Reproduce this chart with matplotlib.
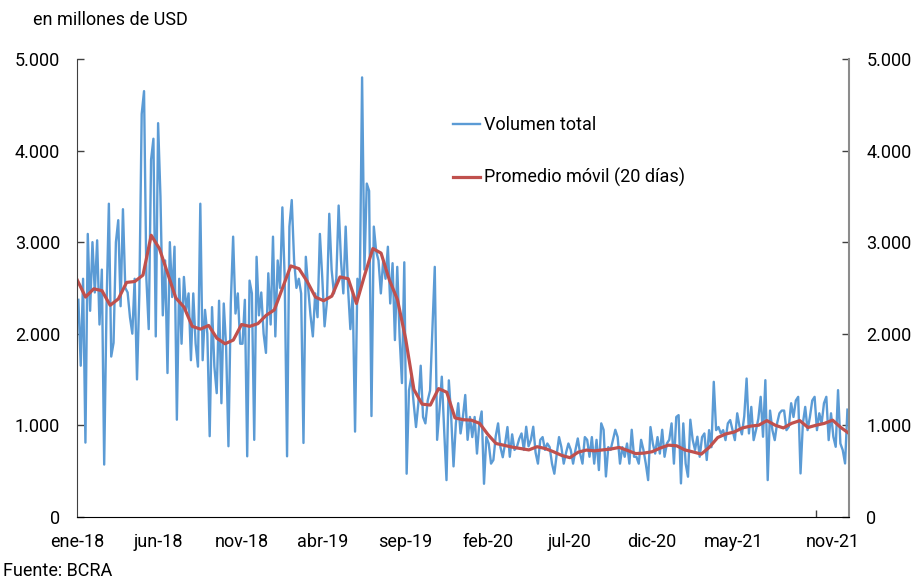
import matplotlib
matplotlib.use('Agg')
import matplotlib.pyplot as plt
import matplotlib.ticker as mticker
import pandas as pd

plt.rcParams['font.family'] = ['Roboto', 'DejaVu Sans']

# volumen diario (muestreado), en millones de USD
vol_2018 = [2370, 1650, 2600, 810, 3090, 2250, 3000,
            2450, 3020, 2100, 2700, 570, 2300, 3420,
            1750, 1900, 3000, 3240, 2300, 3360, 2500,
            2450, 2180, 2000, 2600, 1500, 2440, 4400,
            4650, 2600, 2050, 3900, 4130, 1970, 4300,
            3500, 2200, 2800, 1570, 3000, 2400, 2950,
            1060, 2600, 1890, 2620, 2260, 2440, 1710,
            2440, 1890, 1640, 3420, 1710, 2260, 2000,
            880, 2290, 1640, 1350, 2360, 1240, 2330,
            1860, 770, 2330, 3060, 2220, 2440, 1890,
            1890, 2370, 660, 2580, 2440, 840, 2840,
            2200, 2450, 2000, 1790, 2660, 2100, 3060]
vol_2019 = [1970, 2800, 2500, 3380, 2600, 660, 3170,
            3460, 2800, 2500, 2600, 2440, 806, 2840,
            2500, 2200, 1970, 2440, 2180, 3090, 2620,
            2080, 2350, 3310, 2700, 2440, 2600, 3400,
            2800, 2440, 3170, 2500, 2050, 2440, 930,
            2600, 2450, 4800, 2700, 3640, 3560, 1100,
            3170, 2900, 2800, 2440, 2800, 2600, 2950,
            2330, 2770, 1930, 2730, 1970, 1460, 2780,
            470, 1380, 1530, 1240, 980, 1240, 1650,
            1090, 1020, 1270, 1380, 2040, 2730, 840,
            1160, 1530, 950, 400, 1490, 1090, 550,
            1020, 1240, 910, 1090, 1330, 840, 1090]
vol_2020 = [870, 1090, 690, 1020, 1150, 360, 870,
            800, 580, 620, 880, 1020, 760, 650,
            800, 980, 655, 900, 730, 760, 850,
            910, 730, 983, 770, 840, 983, 700,
            580, 840, 870, 730, 800, 760, 580,
            470, 680, 870, 760, 580, 700, 800,
            730, 580, 730, 855, 690, 580, 870,
            840, 655, 870, 580, 840, 510, 1020,
            950, 440, 760, 730, 840, 950, 870,
            580, 760, 655, 800, 580, 950, 655,
            655, 580, 840, 730, 580, 400, 980,
            800, 690, 870, 690, 950, 655, 800]
vol_2021 = [840, 1020, 580, 1090, 1110, 364, 1020,
            580, 437, 1060, 840, 730, 874, 655,
            870, 910, 620, 946, 760, 1474, 946,
            980, 910, 946, 837, 1020, 1056, 946,
            837, 1130, 983, 900, 1100, 1510, 910,
            1200, 837, 946, 1070, 1310, 874, 1492,
            400, 1160, 946, 837, 1020, 1130, 1160,
            1160, 946, 983, 1240, 1090, 1270, 1310,
            473, 1020, 1200, 946, 1090, 1270, 1310,
            946, 1130, 1020, 1240, 1310, 837, 1130,
            874, 764, 1383, 800, 728, 582, 1170]

# promedio movil 20 dias (cada medio mes)
ma_2018 = [2585, 2400, 2490, 2470, 2310, 2380, 2560, 2570, 2640, 3075, 2930, 2660,
           2390, 2290, 2080, 2050, 2090, 1950, 1890, 1930, 2100, 2080, 2110, 2200]
ma_2019 = [2260, 2500, 2740, 2710, 2570, 2400, 2360, 2410, 2620, 2600, 2330, 2640,
           2930, 2880, 2590, 2370, 1940, 1390, 1230, 1220, 1400, 1360, 1080, 1060]
ma_2020 = [1055, 1020, 900, 800, 780, 760, 745, 730, 765, 745, 710, 670,
           645, 705, 728, 720, 730, 740, 757, 725, 690, 695, 710, 750]
ma_2021 = [782, 775, 730, 708, 684, 760, 865, 905, 925, 970, 990, 1000,
           1050, 1000, 970, 1020, 1050, 975, 1000, 1020, 1055, 975, 910]

tick_dates = ['2018-01-01', '2018-06-01', '2018-11-01', '2019-04-01', '2019-09-01',
              '2020-02-01', '2020-07-01', '2020-12-01', '2021-05-01', '2021-10-01']
label_dates = ['2018-01-01', '2018-06-01', '2018-11-01', '2019-04-01', '2019-09-01',
               '2020-02-01', '2020-07-01', '2020-12-01', '2021-05-01', '2021-11-01']
tick_labels = ['ene-18', 'jun-18', 'nov-18', 'abr-19', 'sep-19',
               'feb-20', 'jul-20', 'dic-20', 'may-21', 'nov-21']

vol = vol_2018 + vol_2019 + vol_2020 + vol_2021
ma = ma_2018 + ma_2019 + ma_2020 + ma_2021
vol_dates = pd.date_range('2018-01-03', '2021-11-28', periods=len(vol))
ma_dates = pd.date_range('2018-01-01', '2021-12-01', periods=len(ma))

fs = 13

fig = plt.figure(figsize=(9.16, 5.8), dpi=100)
ax = fig.add_axes([0.0844, 0.1091, 0.8425, 0.789])

ax.plot(vol_dates, vol, color='#5B9BD5', lw=1.7, label='Volumen total')
ax.plot(ma_dates, ma, color='#C0504D', lw=2.3, label='Promedio móvil (20 días)')

ax.set_xlim(pd.Timestamp('2018-01-01'), pd.Timestamp('2021-12-01'))
ax.set_ylim(0, 5000)
ax.yaxis.set_major_locator(mticker.MultipleLocator(1000))
ax.yaxis.set_major_formatter(mticker.FuncFormatter(lambda v, p: f'{v:,.0f}'.replace(',', '.')))

ax.set_xticks(pd.to_datetime(label_dates))
ax.set_xticklabels(tick_labels)
ax.set_xticks(pd.to_datetime(tick_dates), minor=True)
ax.tick_params(axis='x', which='major', length=0, pad=12, labelsize=fs)
ax.tick_params(axis='x', which='minor', direction='in', length=5, width=1, color='#404040')
ax.tick_params(axis='y', direction='in', length=5, width=1, color='#404040',
               left=True, right=True, labelleft=True, labelright=True, pad=12.5, labelsize=fs)

ax.spines['top'].set_visible(False)
ax.spines['right'].set_color('#8c8c8c')
ax.spines['right'].set_linewidth(1.5)
ax.spines['left'].set_color('#404040')
ax.spines['bottom'].set_color('#000000')

ax.legend(loc='upper left', bbox_to_anchor=(453 / 916, 1 - 116 / 580),
          bbox_transform=fig.transFigure, frameon=False, fontsize=fs,
          handlelength=1.5, handletextpad=0.2, labelspacing=1.9,
          borderpad=0, borderaxespad=0)

fig.text(33 / 916, 1 - 20 / 580, 'en millones de USD', fontsize=fs, va='center', ha='left')
fig.text(3 / 916, 1 - 571 / 580, 'Fuente: BCRA', fontsize=fs, va='center', ha='left')

fig.savefig('out.png', dpi=100)
